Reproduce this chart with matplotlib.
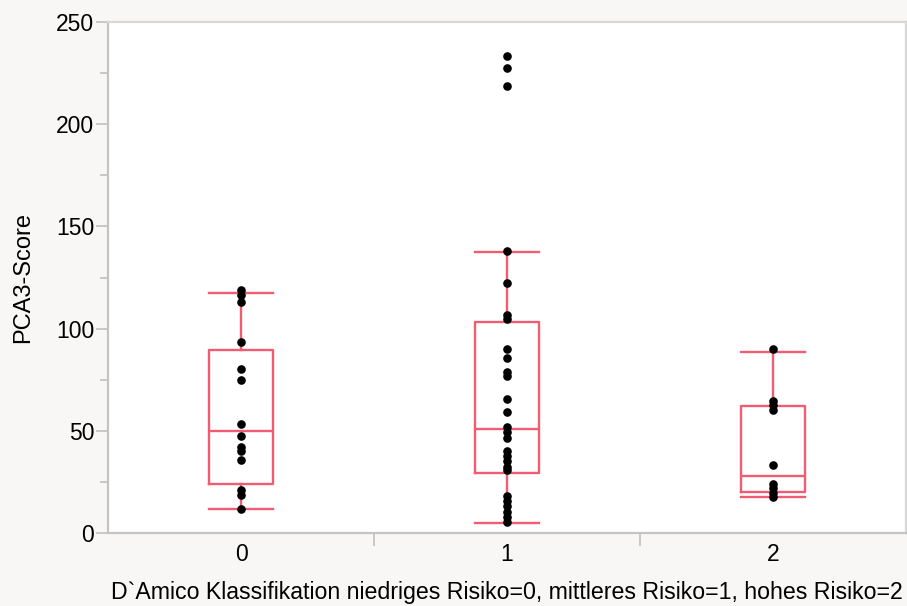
import matplotlib.pyplot as plt

plt.rcParams['font.family'] = ['Liberation Sans', 'DejaVu Sans']

# D'Amico Risikogruppen
groups = [0, 1, 2]
group_labels = ['0', '1', '2']

# PCA3-Score je Patient
scores_0 = [119, 116.5, 113, 93.5, 80, 75, 53.5, 47.5, 42, 40, 35.5, 21, 18.5, 11.5]
scores_1 = [233.5, 227.5, 218.5, 138, 122.5, 106.5, 104.5, 90, 85.5, 79, 77, 65.5,
            59, 52, 49.5, 46.5, 40, 37.5, 35, 32.5, 31, 18, 15.5, 13, 10.5, 8, 5.5]
scores_2 = [90, 64.5, 62.5, 60, 33.5, 24, 22, 19.5, 17.5]

# Kennwerte der Boxen (Whisker unten, Q1, Median, Q3, Whisker oben)
whisker_low = [11.5, 5, 17.8]
q1 = [24, 29.5, 20]
median = [50, 51, 28]
q3 = [89.5, 103, 62.3]
whisker_high = [117.5, 137.5, 88.5]

red = '#f25c72'
grey = '#c4c4c4'

fig = plt.figure(figsize=(9.07, 6.06), dpi=100, facecolor='#f8f7f6')
ax = fig.add_axes([108 / 907, 1 - 533 / 606, 798 / 907, 511 / 606])
ax.set_facecolor('white')

stats = []
for i in range(3):
    stats.append({'whislo': whisker_low[i], 'q1': q1[i], 'med': median[i],
                  'q3': q3[i], 'whishi': whisker_high[i], 'fliers': []})
line = {'color': red, 'linewidth': 1.7}
ax.bxp(stats, positions=groups, widths=0.24, capwidths=0.24, showfliers=False,
       boxprops=line, whiskerprops=line, capprops=line, medianprops=line,
       manage_ticks=False, zorder=2)

for g, vals in zip(groups, [scores_0, scores_1, scores_2]):
    ax.plot([g] * len(vals), vals, 'o', color='black', markersize=6.2,
            markeredgewidth=0, zorder=3)

ax.set_xlim(-0.5, 2.5)
ax.set_ylim(0, 250)
ax.set_yticks(range(0, 251, 50))
ax.set_yticks(range(25, 250, 50), minor=True)
ax.set_xticks(groups)
ax.set_xticklabels(group_labels)
ax.set_xticks([0.5, 1.5], minor=True)

ax.tick_params(axis='y', which='major', length=9, width=1.3, color=grey,
               labelsize=16.5, pad=1)
ax.tick_params(axis='y', which='minor', length=6, width=1.3, color=grey)
ax.tick_params(axis='x', which='major', length=0, labelsize=16.5, pad=7)
ax.tick_params(axis='x', which='minor', length=9, width=1.3, color=grey)

for side in ['left', 'bottom']:
    ax.spines[side].set_color(grey)
    ax.spines[side].set_linewidth(1.6)
for side in ['top', 'right']:
    ax.spines[side].set_color('#d8d8d8')
    ax.spines[side].set_linewidth(1.6)

ax.set_ylabel('PCA3-Score', fontsize=17, labelpad=16)
ax.set_xlabel('D`Amico Klassifikation niedriges Risiko=0, mittleres Risiko=1, hohes Risiko=2',
              fontsize=16.7, labelpad=11)

fig.savefig('out.png', dpi=100, facecolor=fig.get_facecolor())
